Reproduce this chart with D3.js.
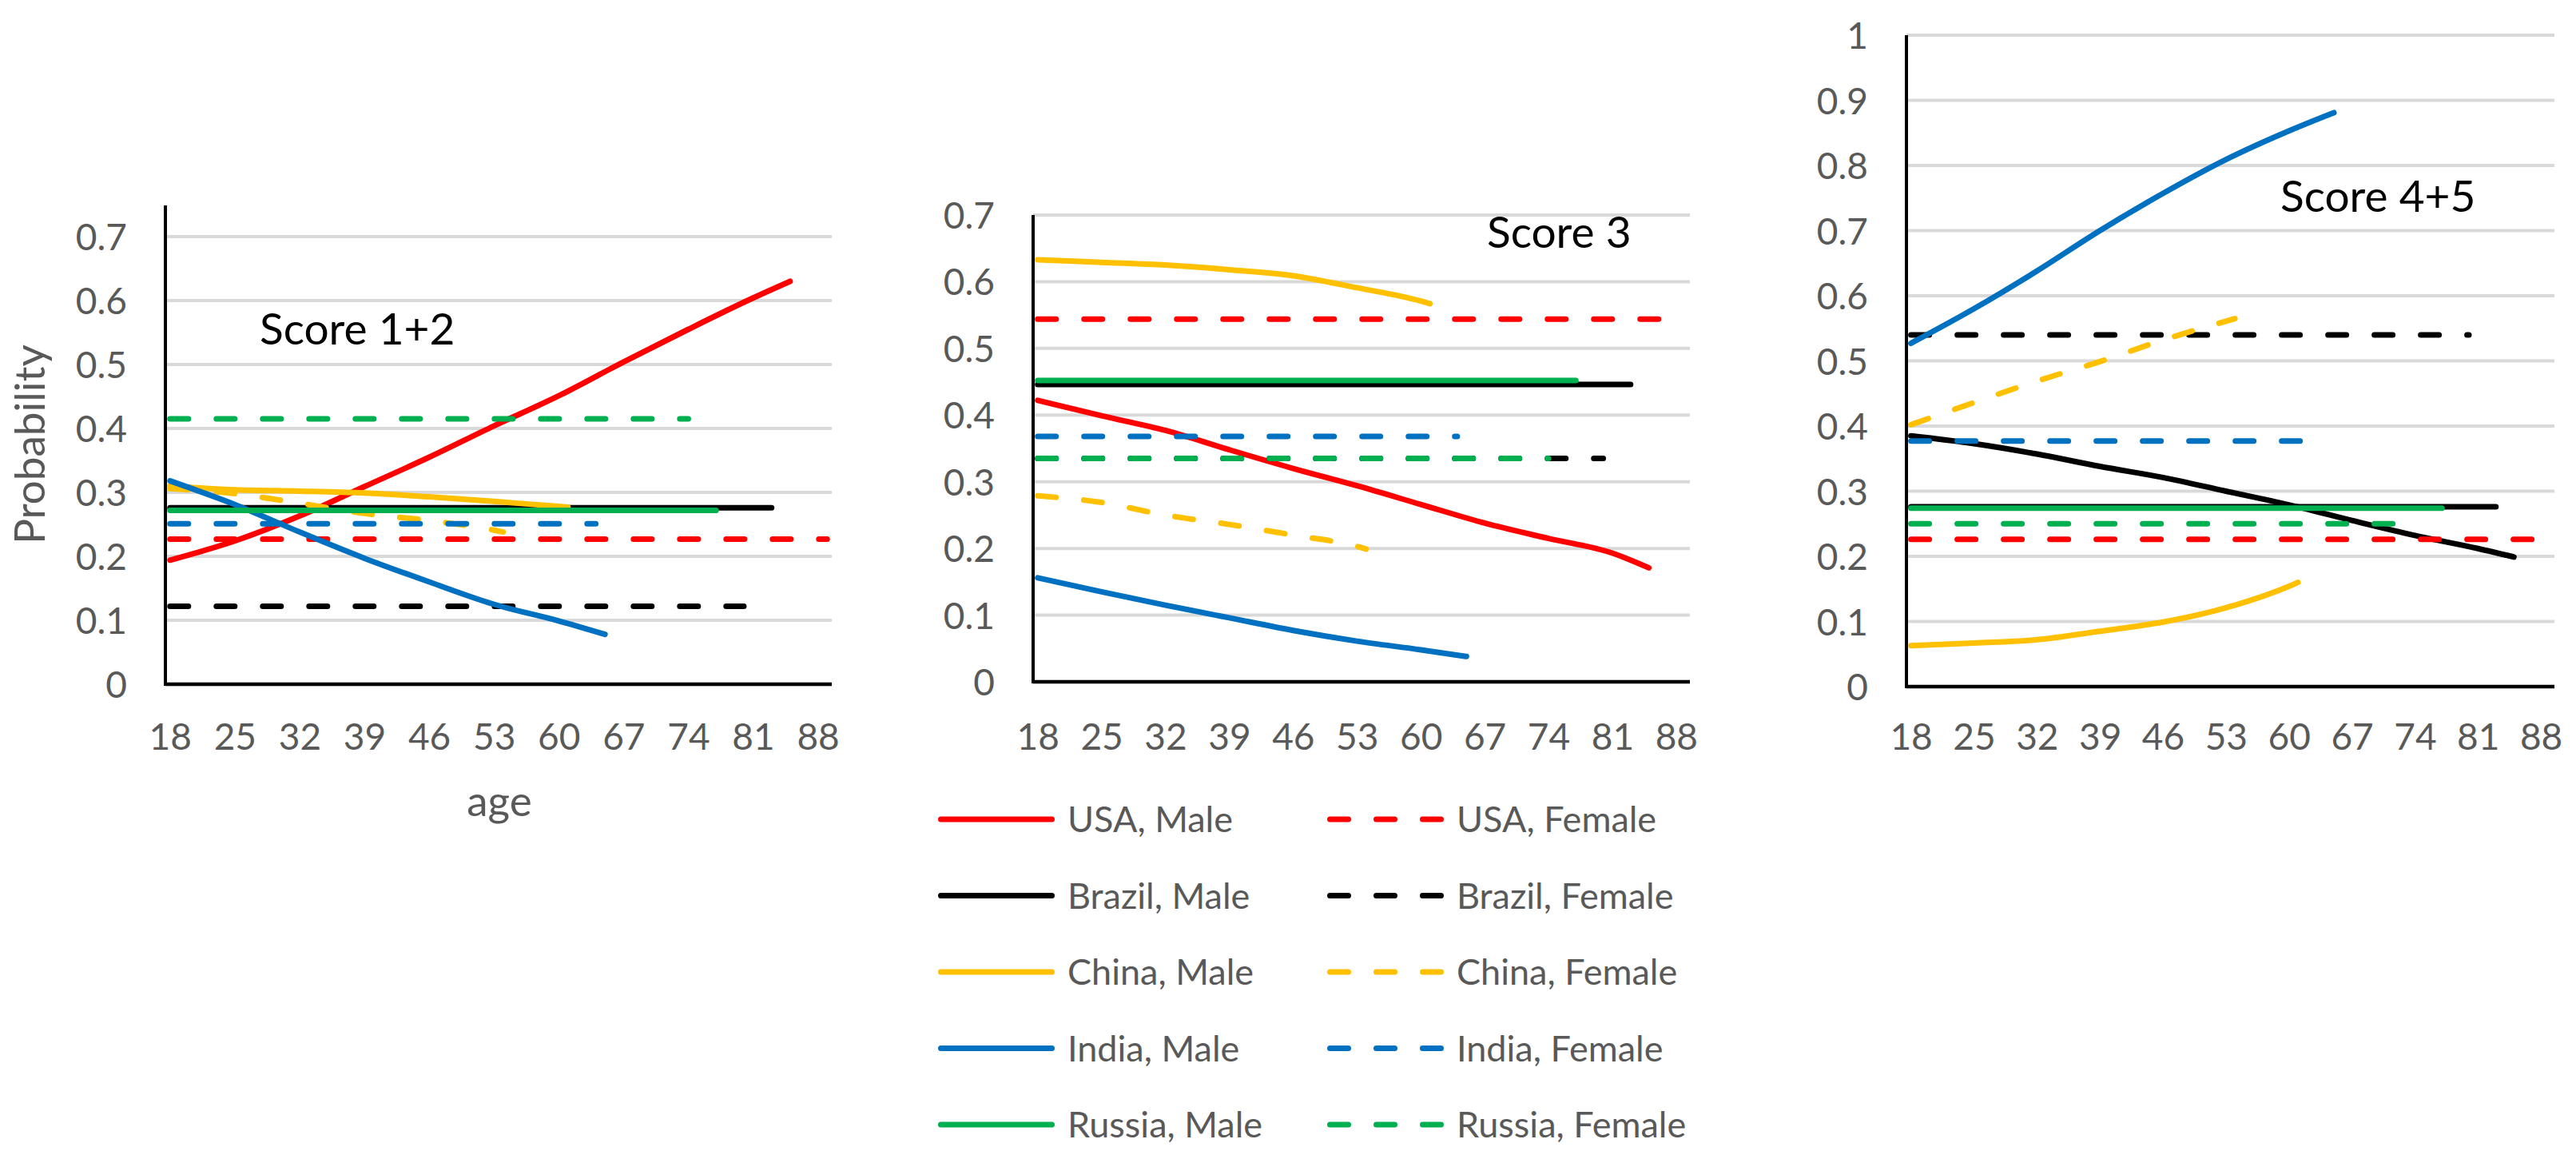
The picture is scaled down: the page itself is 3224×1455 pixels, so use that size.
<!DOCTYPE html>
<html>
<head>
<meta charset="utf-8">
<script src="https://cdn.jsdelivr.net/npm/d3@7"></script>
<style>
  body { margin: 0; background: #fff; }
  text { font-family: Lato, "Open Sans", sans-serif; }
</style>
</head>
<body>
<script>
  var W = 3224, H = 1455;

  // age categories and labelled ticks
  var ages = d3.range(18, 90);
  var tickAges = [18, 25, 32, 39, 46, 53, 60, 67, 74, 81, 88];

  var seriesNames = ["USA, Male", "USA, Female", "Brazil, Male", "Brazil, Female",
                     "China, Male", "China, Female", "India, Male", "India, Female",
                     "Russia, Male", "Russia, Female"];
  var seriesColors = ["#ff0000", "#ff0000", "#000000", "#000000", "#ffc000",
                      "#ffc000", "#0070c0", "#0070c0", "#00b050", "#00b050"];
  var seriesDashed = [false, true, false, true, false, true, false, true, false, true];

  // [age, probability], in seriesNames order
  var score12 = [
    [[18,.194],[25,.224],[32,.263],[39,.309],[46,.355],[53,.404],[60,.451],[67,.504],[74,.555],[81,.604],[85,.63]],
    [[18,.227],[89,.227]],
    [[18,.276],[83,.276]],
    [[18,.122],[80,.122]],
    [[18,.31],[25,.304],[32,.302],[39,.299],[46,.293],[53,.286],[60,.278],[61,.277]],
    [[18,.306],[25,.298],[32,.283],[39,.267],[46,.256],[53,.241],[54,.238]],
    [[18,.318],[25,.281],[32,.238],[39,.197],[46,.16],[53,.125],[60,.099],[65,.078]],
    [[18,.251],[64,.251]],
    [[18,.272],[77,.272]],
    [[18,.415],[74,.415]]
  ];
  var score3 = [
    [[18,.422],[25,.399],[32,.377],[39,.348],[46,.32],[53,.294],[60,.266],[67,.238],[74,.215],[81,.193],[85,.171]],
    [[18,.544],[89,.544]],
    [[18,.446],[83,.446]],
    [[18,.335],[80,.335]],
    [[18,.633],[25,.629],[32,.625],[39,.618],[46,.609],[53,.591],[60,.571],[61,.567]],
    [[18,.279],[25,.269],[32,.25],[39,.236],[46,.22],[53,.203],[54,.199]],
    [[18,.156],[25,.135],[32,.115],[39,.096],[46,.077],[53,.061],[60,.048],[65,.038]],
    [[18,.368],[64,.368]],
    [[18,.452],[77,.452]],
    [[18,.335],[74,.335]]
  ];
  var score45 = [
    [[18,.385],[25,.373],[32,.357],[39,.338],[46,.321],[53,.30],[60,.279],[67,.255],[74,.232],[81,.212],[85,.199]],
    [[18,.226],[89,.226]],
    [[18,.276],[83,.276]],
    [[18,.54],[80,.54]],
    [[18,.063],[25,.067],[32,.072],[39,.085],[46,.099],[53,.121],[60,.154],[61,.16]],
    [[18,.402],[25,.436],[32,.469],[39,.499],[46,.532],[53,.561],[54,.565]],
    [[18,.527],[25,.58],[32,.638],[39,.7],[46,.757],[53,.809],[60,.853],[65,.881]],
    [[18,.377],[64,.377]],
    [[18,.274],[77,.274]],
    [[18,.25],[74,.25]]
  ];

  var ticks07 = [0, 0.1, 0.2, 0.3, 0.4, 0.5, 0.6, 0.7];
  var ticks10 = [0, 0.1, 0.2, 0.3, 0.4, 0.5, 0.6, 0.7, 0.8, 0.9, 1];

  // panel layout
  var panels = [
    { data: score12, title: "Score 1+2", x0: 207, x1: 1041, y0: 856, yTopVal: 296, axisTop: 257,
      max: 0.7, ticks: ticks07, tx: 325, ty: 431, colors: {} },
    { data: score3, title: "Score 3", x0: 1293, x1: 2115, y0: 853, yTopVal: 269, axisTop: 269,
      max: 0.7, ticks: ticks07, tx: 1861, ty: 310, colors: {} },
    { data: score45, title: "Score 4+5", x0: 2386, x1: 3197, y0: 859, yTopVal: 44, axisTop: 44,
      max: 1, ticks: ticks10, tx: 2854, ty: 265, colors: { 0: "#000000" } }
  ];

  var svg = d3.select("body").append("svg")
    .attr("width", W).attr("height", H);

  panels.forEach(function(p) {
    var x = d3.scalePoint().domain(ages).range([p.x0, p.x1]).padding(0.5);
    var y = d3.scaleLinear().domain([0, p.max]).range([p.y0, p.yTopVal]);
    var g = svg.append("g");

    // gridlines
    g.selectAll("line.grid")
      .data(p.ticks.filter(function(t) { return t > 0; }))
      .enter().append("line")
      .attr("x1", p.x0).attr("x2", p.x1)
      .attr("y1", function(d) { return y(d); })
      .attr("y2", function(d) { return y(d); })
      .attr("stroke", "#d9d9d9").attr("stroke-width", 4);

    // y tick labels
    var ya = g.append("g").attr("transform", "translate(" + p.x0 + ",0)")
      .call(d3.axisLeft(y).tickValues(p.ticks).tickSize(0).tickPadding(48)
        .tickFormat(function(d) { return d3.format("")(+d.toFixed(1)); }));
    ya.select(".domain").remove();
    ya.selectAll("text").attr("font-size", 46).attr("fill", "#595959")
      .attr("font-family", "Lato").attr("dy", "0.36em");

    // x tick labels
    var xa = g.append("g").attr("transform", "translate(0," + p.y0 + ")")
      .call(d3.axisBottom(x).tickValues(tickAges).tickSize(0));
    xa.select(".domain").remove();
    xa.selectAll("text").attr("font-size", 46).attr("fill", "#595959")
      .attr("font-family", "Lato").attr("y", 921 - p.y0).attr("dy", "0.36em");

    // series
    var line = d3.line()
      .x(function(d) { return x(d[0]); })
      .y(function(d) { return y(d[1]); })
      .curve(d3.curveMonotoneX);

    g.selectAll("path.series")
      .data(p.data)
      .enter().append("path")
      .attr("d", line)
      .attr("fill", "none")
      .attr("stroke", function(d, i) { return p.colors[i] || seriesColors[i]; })
      .attr("stroke-width", 7)
      .attr("stroke-linecap", "round")
      .attr("stroke-linejoin", "round")
      .attr("stroke-dasharray", function(d, i) { return seriesDashed[i] ? "23 35" : null; });

    // axis lines
    g.append("line").attr("x1", p.x0).attr("x2", p.x0)
      .attr("y1", p.axisTop).attr("y2", p.y0 + 2)
      .attr("stroke", "#000").attr("stroke-width", 4);
    g.append("line").attr("x1", p.x0).attr("x2", p.x1)
      .attr("y1", p.y0).attr("y2", p.y0)
      .attr("stroke", "#000").attr("stroke-width", 4.5);

    g.append("text").attr("x", p.tx).attr("y", p.ty)
      .attr("font-size", 55).attr("fill", "#000").text(p.title);
  });

  // axis titles
  svg.append("text").attr("transform", "translate(56,556) rotate(-90)")
    .attr("text-anchor", "middle").attr("font-size", 53).attr("fill", "#595959")
    .text("Probability");
  svg.append("text").attr("x", 625).attr("y", 1021)
    .attr("text-anchor", "middle").attr("font-size", 53).attr("fill", "#595959")
    .text("age");

  // legend: two columns, male solid / female dashed
  var legend = svg.append("g");
  seriesNames.forEach(function(name, i) {
    var row = Math.floor(i / 2), col = i % 2;
    var cy = 1025 + row * 95.5;
    var lx = col === 0 ? 1174 : 1661;
    legend.append("line")
      .attr("x1", lx + 3.5).attr("x2", lx + 146 - 3.5)
      .attr("y1", cy).attr("y2", cy)
      .attr("stroke", seriesColors[i]).attr("stroke-width", 7)
      .attr("stroke-linecap", "round")
      .attr("stroke-dasharray", seriesDashed[i] ? "23 35" : null);
    legend.append("text")
      .attr("x", lx + 162).attr("y", cy).attr("dy", "0.36em")
      .attr("font-size", 45).attr("fill", "#595959")
      .text(name);
  });
</script>
</body>
</html>
